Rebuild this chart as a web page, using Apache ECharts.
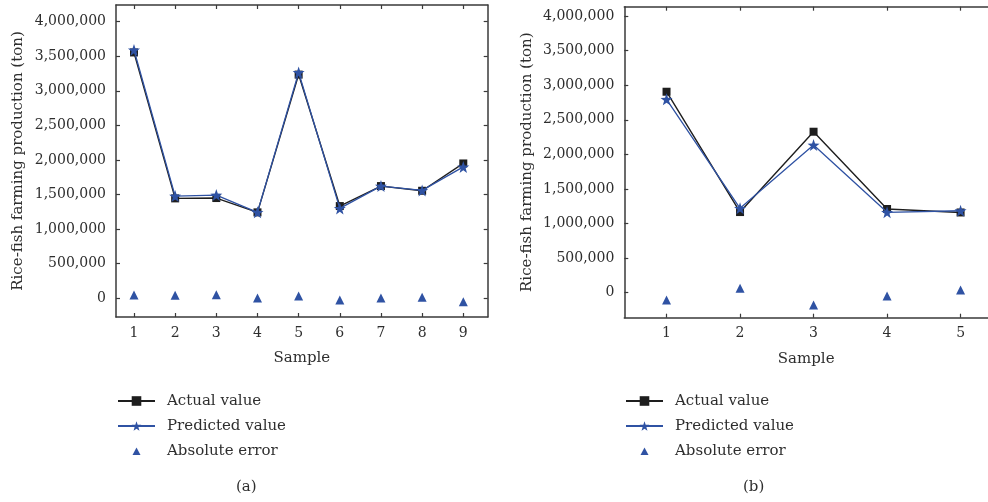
<!DOCTYPE html>
<html>
<head>
<meta charset="utf-8">
<script src="https://cdn.jsdelivr.net/npm/echarts@6/dist/echarts.min.js"></script>
<style>
  html, body { margin: 0; padding: 0; background: #fff; }
  #chart { width: 988px; height: 502px; }
</style>
</head>
<body>
<div id="chart"></div>
<script>
// Panel (a): nine samples
const samplesA = [1, 2, 3, 4, 5, 6, 7, 8, 9];
const actualA = [3555000, 1445000, 1450000, 1243000, 3235000, 1334000, 1623000, 1555000, 1950000];
const predictedA = [3590000, 1478000, 1493000, 1243000, 3265000, 1300000, 1623000, 1560000, 1900000];
const errorA = [48000, 43000, 52000, 5000, 33000, -25000, 5000, 15000, -49000];

// Panel (b): five samples
const samplesB = [1, 2, 3, 4, 5];
const actualB = [2905000, 1166000, 2327000, 1210000, 1160000];
const predictedB = [2795000, 1220000, 2134000, 1162000, 1185000];
const errorB = [-105000, 63000, -178000, -48000, 39000];

const yTicks = [0, 500000, 1000000, 1500000, 2000000, 2500000, 3000000, 3500000, 4000000];
const seriesNames = ['Actual value', 'Predicted value', 'Absolute error'];
const panelLabels = ['(a)', '(b)'];

const FONT = 'DejaVu Serif';
const TEXT = '#2e2e2e';
const AXIS = '#3a3a3a';
const BLACK = '#1e1e1e';
const BLUE = '#2f52a3';
const STAR = 'path://M0,-10 L2.35,-3.24 L9.51,-3.09 L3.8,1.24 L5.88,8.09 L0,4 L-5.88,8.09 L-3.8,1.24 L-9.51,-3.09 L-2.35,-3.24 Z';

const pairs = (xs, ys) => xs.map((x, i) => [x, ys[i]]);
const fmt = v => yTicks.includes(v) ? v.toLocaleString('en-US') : '';

function xAxes(gridIndex, min, max, ticks) {
  const common = {
    type: 'value', gridIndex, min, max, interval: 1,
    axisLine: { onZero: false, lineStyle: { color: AXIS, width: 1.5 } },
    axisTick: { inside: true, length: 4, lineStyle: { color: AXIS, width: 1.2 },
      customValues: ticks },
    splitLine: { show: false }
  };
  return [
    Object.assign({}, common, {
      position: 'bottom',
      axisLabel: { customValues: ticks, margin: 9, color: TEXT, fontFamily: FONT, fontSize: 14 },
      name: 'Sample', nameLocation: 'middle', nameGap: 34,
      nameTextStyle: { color: TEXT, fontFamily: FONT, fontSize: 15 }
    }),
    Object.assign({}, common, { position: 'top', axisLabel: { show: false } })
  ];
}

function yAxes(gridIndex, min, max, withRight) {
  const common = {
    type: 'value', gridIndex, min, max,
    axisLine: { show: true, onZero: false, lineStyle: { color: AXIS, width: 1.5 } },
    axisTick: { show: true, inside: true, length: 4, lineStyle: { color: AXIS, width: 1.2 },
      customValues: yTicks },
    splitLine: { show: false }
  };
  const left = Object.assign({}, common, {
    position: 'left',
    axisLabel: { customValues: yTicks, formatter: fmt, margin: 10, color: TEXT, fontFamily: FONT, fontSize: 14 },
    name: 'Rice-fish farming production (ton)', nameLocation: 'middle', nameGap: 90,
    nameTextStyle: { color: TEXT, fontFamily: FONT, fontSize: 15 }
  });
  const out = [left];
  if (withRight) {
    out.push(Object.assign({}, common, { position: 'right', axisLabel: { show: false } }));
  }
  return out;
}

function panelSeries(xi, yi, samples, actual, predicted, error) {
  return [
    {
      name: seriesNames[0], type: 'line', xAxisIndex: xi, yAxisIndex: yi,
      data: pairs(samples, actual), symbol: 'rect', symbolSize: 8,
      lineStyle: { color: BLACK, width: 1.4 }, itemStyle: { color: BLACK },
      z: 2
    },
    {
      name: seriesNames[1], type: 'line', xAxisIndex: xi, yAxisIndex: yi,
      data: pairs(samples, predicted), symbol: STAR, symbolSize: 12,
      lineStyle: { color: BLUE, width: 1.3 }, itemStyle: { color: BLUE },
      z: 3
    },
    {
      name: seriesNames[2], type: 'scatter', xAxisIndex: xi, yAxisIndex: yi,
      data: pairs(samples, error), symbol: 'triangle', symbolSize: 9,
      symbolKeepAspect: true,
      itemStyle: { color: BLUE, opacity: 1 }, z: 3
    }
  ];
}

function legendAt(left) {
  return {
    orient: 'vertical', left, top: 388,
    itemWidth: 37, itemHeight: 12, itemGap: 9,
    symbolKeepAspect: true,
    data: [
      { name: seriesNames[0] },
      { name: seriesNames[1] },
      { name: seriesNames[2], icon: 'path://M0,0 M37,12 M14.5,10 L18.5,2.5 L22.5,10 Z',
        itemStyle: { color: BLUE, opacity: 1 } }
    ],
    formatter: name => '{g|}' + name,
    textStyle: { color: TEXT, fontFamily: FONT, fontSize: 15, lineHeight: 16,
      rich: { g: { width: 7 } } },
    selectedMode: false
  };
}

const chart = echarts.init(document.getElementById('chart'), null, { renderer: 'canvas' });

const option = {
  animation: false,
  backgroundColor: '#fff',
  grid: [
    { left: 116, top: 5, width: 371.7, height: 312 },
    { left: 624.3, top: 6.7, width: 368, height: 311 }
  ],
  xAxis: [
    ...xAxes(0, 0.563, 9.593, samplesA),
    ...xAxes(1, 0.4255, 5.373, samplesB)
  ],
  yAxis: [
    ...yAxes(0, -270000, 4241000, true),
    ...yAxes(1, -361000, 4134000, false)
  ],
  legend: [legendAt(112), legendAt(620)],
  graphic: [
    { type: 'text', left: 236, top: 480,
      style: { text: panelLabels[0], fill: TEXT, font: '15px "' + FONT + '"' } },
    { type: 'text', left: 743, top: 480,
      style: { text: panelLabels[1], fill: TEXT, font: '15px "' + FONT + '"' } }
  ],
  series: [
    ...panelSeries(0, 0, samplesA, actualA, predictedA, errorA),
    ...panelSeries(2, 2, samplesB, actualB, predictedB, errorB)
  ]
};

chart.setOption(option);
</script>
</body>
</html>
